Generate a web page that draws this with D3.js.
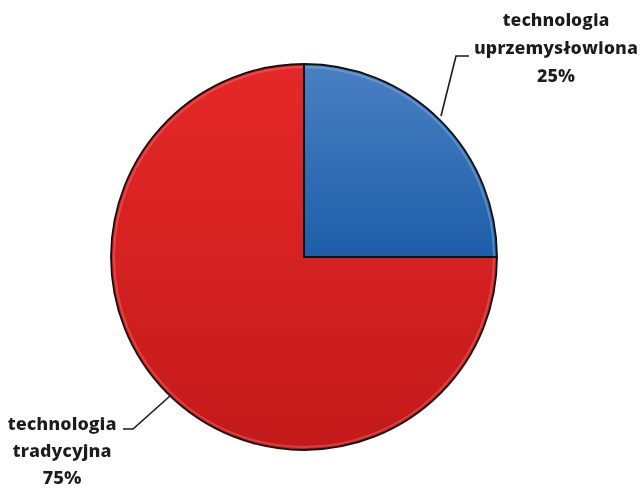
<!DOCTYPE html>
<html><head><meta charset="utf-8">
<script src="https://cdn.jsdelivr.net/npm/d3@7/dist/d3.min.js"></script>
<style>body{margin:0;background:#fff;}svg{display:block;}</style>
</head><body>
<script>
const categories = ["technologia uprzemysłowiona", "technologia tradycyjna"];
const values = [25, 75];
const labelLines = [["technologia", "uprzemysłowiona", "25%"], ["technologia", "tradycyjna", "75%"]];
const colors = ["#2f6db5", "#e02222"];

const W = 641, H = 489;
const cx = 304, cy = 257, R = 193;
const svg = d3.select("body").append("svg").attr("width", W).attr("height", H);
const defs = svg.append("defs");

const g1 = defs.append("linearGradient").attr("id", "gBlue").attr("x1", 0).attr("y1", 0).attr("x2", 0).attr("y2", 1);
g1.append("stop").attr("offset", "0%").attr("stop-color", "#4a80c2");
g1.append("stop").attr("offset", "100%").attr("stop-color", "#1d5ea8");
const g2 = defs.append("linearGradient").attr("id", "gRed").attr("x1", 0).attr("y1", 0).attr("x2", 0).attr("y2", 1);
g2.append("stop").attr("offset", "0%").attr("stop-color", "#e52828");
g2.append("stop").attr("offset", "100%").attr("stop-color", "#c41a1a");
const fills = ["url(#gBlue)", "url(#gRed)"];
const bevel = ["#8db4e0", "#f07070"];

const f = defs.append("filter").attr("id", "glow").attr("x", "-10%").attr("y", "-20%").attr("width", "120%").attr("height", "140%");
f.append("feGaussianBlur").attr("in", "SourceAlpha").attr("stdDeviation", 1.2).attr("result", "b");
f.append("feFlood").attr("flood-color", "#ffffff").attr("flood-opacity", 0.9);
f.append("feComposite").attr("in2", "b").attr("operator", "in").attr("result", "w");
const fm = f.append("feMerge");
fm.append("feMergeNode").attr("in", "w");
fm.append("feMergeNode").attr("in", "SourceGraphic");

const pie = d3.pie().sort(null).value(d => d);
const arcs = pie(values);
const arc = d3.arc().innerRadius(0).outerRadius(R);
const arcIn = d3.arc().innerRadius(0).outerRadius(R - 3);

const gp = svg.append("g").attr("transform", `translate(${cx},${cy})`);
gp.selectAll("path.s").data(arcs).join("path").attr("class", "s")
  .attr("d", arc).attr("fill", (d, i) => fills[i]);
gp.selectAll("path.b").data(arcs).join("path").attr("class", "b")
  .attr("d", arcIn).attr("fill", "none").attr("stroke", (d, i) => bevel[i])
  .attr("stroke-width", 2).attr("stroke-opacity", 0.45);
gp.selectAll("path.o").data(arcs).join("path").attr("class", "o")
  .attr("d", arc).attr("fill", "none").attr("stroke", "#111").attr("stroke-width", 1.8).attr("stroke-linejoin", "miter");

const leaders = [
  [[441, 116], [456, 56], [469, 56]],
  [[170, 396], [133, 429], [123, 429]]
];
svg.selectAll("path.l").data(leaders).join("path").attr("class", "l")
  .attr("d", d => d3.line()(d)).attr("fill", "none").attr("stroke", "#1a1a1a").attr("stroke-width", 1.6);

const labelPos = [{x: 556, y: 26, h: 28, w: [107, 164, 38]}, {x: 62, y: 430, h: 27, w: [109, 99, 39]}];
labelLines.forEach((lines, i) => {
  lines.forEach((s, j) => {
    svg.append("text").attr("text-anchor", "middle")
      .attr("font-family", "'Open Sans', sans-serif").attr("font-weight", 800)
      .attr("font-size", 17).attr("fill", "#1a1a1a").attr("filter", "url(#glow)")
      .attr("x", labelPos[i].x).attr("y", labelPos[i].y + j * labelPos[i].h)
      .attr("textLength", labelPos[i].w[j]).attr("lengthAdjust", "spacingAndGlyphs")
      .text(s);
  });
});
</script>
</body></html>
